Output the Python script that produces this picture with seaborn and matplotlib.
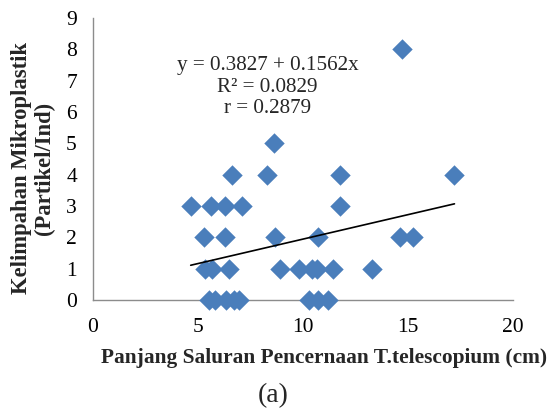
import numpy as np
import pandas as pd
import matplotlib
matplotlib.use("Agg")
import matplotlib.pyplot as plt
import seaborn as sns

# ---- data ----
length_cm = [14.7,
             8.6,
             6.6, 8.3, 11.75, 17.2,
             4.65, 5.6, 6.3, 7.1, 11.75,
             5.3, 6.3, 8.65, 10.7, 14.6, 15.25,
             5.35, 5.65, 6.45, 8.9, 9.8, 10.4, 10.65, 11.4, 13.3,
             5.5, 5.8, 6.35, 6.7, 6.95, 10.3, 10.7, 11.2]
abundance = [8,
             5,
             4, 4, 4, 4,
             3, 3, 3, 3, 3,
             2, 2, 2, 2, 2, 2,
             1, 1, 1, 1, 1, 1, 1, 1, 1,
             0, 0, 0, 0, 0, 0, 0, 0]
intercept = 0.3827
slope = 0.1562
eq_lines = ["y = 0.3827 + 0.1562x", "R\u00b2 = 0.0829", "r = 0.2879"]
x_ticks = [0, 5, 10, 15, 20]
y_ticks = [0, 1, 2, 3, 4, 5, 6, 7, 8, 9]
x_label = "Panjang Saluran Pencernaan T.telescopium (cm)"
y_label = "Kelimpahan Mikroplastik\n(Partikel/Ind)"
panel_label = "(a)"

sns.set_style("white")
plt.rcParams['font.family'] = ['Liberation Serif', 'DejaVu Serif']

W, H = 548, 409
fig = plt.figure(figsize=(W / 100, H / 100), dpi=100)
ax = fig.add_axes([93 / W, 1 - 300 / H, 420.3 / W, 282 / H])

df = pd.DataFrame({"x": length_cm, "y": abundance})
sns.scatterplot(data=df, x="x", y="y", ax=ax, marker="D", s=108,
                color="#4A7EBB", linewidth=0, clip_on=False, zorder=3)

xl = np.array([min(length_cm), max(length_cm)])
line_df = pd.DataFrame({"x": xl, "y": intercept + slope * xl})
sns.lineplot(data=line_df, x="x", y="y", ax=ax, color="black", linewidth=1.2, zorder=4)

ax.set_xlim(0, 20)
ax.set_ylim(0, 9)
ax.set_xticks(x_ticks)
ax.set_yticks(y_ticks)
ax.set_xlabel("")
ax.set_ylabel("")
for side in ["top", "right"]:
    ax.spines[side].set_visible(False)
for side in ["left", "bottom"]:
    ax.spines[side].set_color("#8C8C8C")
    ax.spines[side].set_linewidth(1.0)
ax.tick_params(axis="both", direction="out", length=3.6, width=1.0,
               color="#8C8C8C", labelsize=15.5, labelcolor="black")
ax.tick_params(axis="x", pad=9.5)
ax.tick_params(axis="y", pad=8)

fig.text(267.5 / W, 1 - 87 / H, "\n".join(eq_lines), ha="center", va="center",
         multialignment="center", fontsize=15.2, linespacing=1.15)
fig.text(324 / W, 1 - 358 / H, x_label, ha="center", va="center",
         fontsize=15.4, fontweight="bold")
fig.text(33 / W, 1 - 168 / H, y_label, ha="center", va="center", rotation=90,
         multialignment="center", fontsize=16.3, fontweight="bold", linespacing=1.12)
fig.text(273 / W, 1 - 396 / H, panel_label, ha="center", va="center", fontsize=20)

fig.savefig("out.png", dpi=100)
